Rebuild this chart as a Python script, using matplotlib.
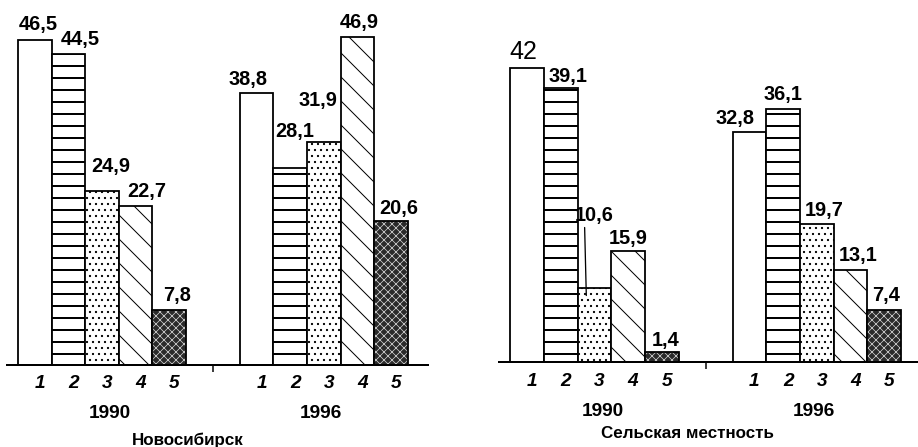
import matplotlib
matplotlib.use('Agg')
import matplotlib.pyplot as plt

plt.rcParams['font.family'] = ['Liberation Sans', 'DejaVu Sans']

# данные
categories = ['1', '2', '3', '4', '5']
years = ['1990', '1996']
novosib_1990 = [46.5, 44.5, 24.9, 22.7, 7.8]
novosib_1996 = [38.8, 28.1, 31.9, 46.9, 20.6]
rural_1990 = [42, 39.1, 10.6, 15.9, 1.4]
rural_1996 = [32.8, 36.1, 19.7, 13.1, 7.4]
titles = ['Новосибирск', 'Сельская местность']

# смещения подписей значений (пиксели от верха столбца)
novosib_offsets = [(3, 10), (12, 9), (9, 19), (11, 9), (8, 9),
                   (-9, 8), (4, 31), (-6, 36), (2, 9), (8, 7)]
rural_offsets = [(-4, 9), (7, 6), (8, 74), (0, 7), (4, 6),
                 (-14, 8), (0, 9), (7, 8), (8, 9), (2, 9)]

hatches = ['', '-', '..', '\\', 'xxx']
hatch_lw = [1.0, 2.0, 1.0, 1.0, 0.7]

DPI = 72
fig = plt.figure(figsize=(918 / DPI, 447 / DPI), dpi=DPI)

g2_start = 6.6
centers1 = [i + 0.5 for i in range(5)]
centers2 = [g2_start + i + 0.5 for i in range(5)]


def panel(rect, xmax, ytop, vals1, vals2, offsets, title, year_dy, cat_dy, title_dy, title_x):
    ax = fig.add_axes(rect)
    ax.set_xlim(-0.33, xmax)
    ax.set_ylim(0, ytop)
    for c, v1, v2, h, hl in zip(range(5), vals1, vals2, hatches, hatch_lw):
        xs = [centers1[c], centers2[c]]
        vs = [v1, v2]
        with plt.rc_context({'hatch.linewidth': hl}):
            if c == 4:
                ax.bar(xs, vs, width=1.0, color='#2a2a2a', edgecolor='#d8d8d8',
                       hatch=h, linewidth=0)
                ax.bar(xs, vs, width=1.0, fill=False, edgecolor='black', linewidth=1.8)
            else:
                ax.bar(xs, vs, width=1.0, color='white', edgecolor='black',
                       hatch=h, linewidth=1.8)

    allc = centers1 + centers2
    allv = list(vals1) + list(vals2)
    for x, v, off in zip(allc, allv, offsets):
        txt = f'{v:g}'.replace('.', ',')
        if txt == '42':
            ax.annotate(txt, xy=(x, v), xytext=off, textcoords='offset points',
                        ha='center', va='baseline', fontsize=25)
        elif txt == '10,6':
            ax.annotate(txt, xy=(x - 0.24, v - 1.1), xytext=off,
                        textcoords='offset points', ha='center', va='baseline',
                        fontsize=20, fontweight='bold',
                        arrowprops=dict(arrowstyle='-', color='black', lw=1.3,
                                        shrinkA=0, shrinkB=0,
                                        relpos=(0.25, 0.0)))
        else:
            ax.annotate(txt, xy=(x, v), xytext=off, textcoords='offset points',
                        ha='center', va='baseline', fontsize=20, fontweight='bold')

    # подписи категорий
    for x, lab in zip(allc, categories * 2):
        ax.annotate(lab, xy=(x, 0), xytext=(5, cat_dy), textcoords='offset points',
                    ha='center', va='center', fontsize=19, fontweight='bold',
                    fontstyle='italic')
    # годы
    for x, yr, dx in zip([2.5, g2_start + 2.5], years, [8, -3]):
        ax.annotate(yr, xy=(x, 0), xytext=(dx, year_dy), textcoords='offset points',
                    ha='center', va='center', fontsize=19, fontweight='bold')
    ax.annotate(title, xy=(title_x, 0), xytext=(0, title_dy), textcoords='offset points',
                ha='center', va='center', fontsize=17, fontweight='bold')

    for s in ['left', 'right', 'top']:
        ax.spines[s].set_visible(False)
    ax.spines['bottom'].set_linewidth(2)
    ax.set_yticks([])
    ax.set_xticks([5.8])
    ax.set_xticklabels([''])
    ax.tick_params(axis='x', direction='out', length=7, width=1.5)
    ax.patch.set_visible(False)
    return ax


panel([7 / 918, 82 / 447, 421 / 918, 365 / 447], 12.2, 365 / 7.0,
      novosib_1990, novosib_1996, novosib_offsets, titles[0], -49, -18, -75, 5.06)
panel([499 / 918, 85 / 447, 419 / 918, 362 / 447], 12.1, 362 / 7.0,
      rural_1990, rural_1996, rural_offsets, titles[1], -50, -20, -71, 5.25)

fig.savefig('out.png', dpi=DPI)
